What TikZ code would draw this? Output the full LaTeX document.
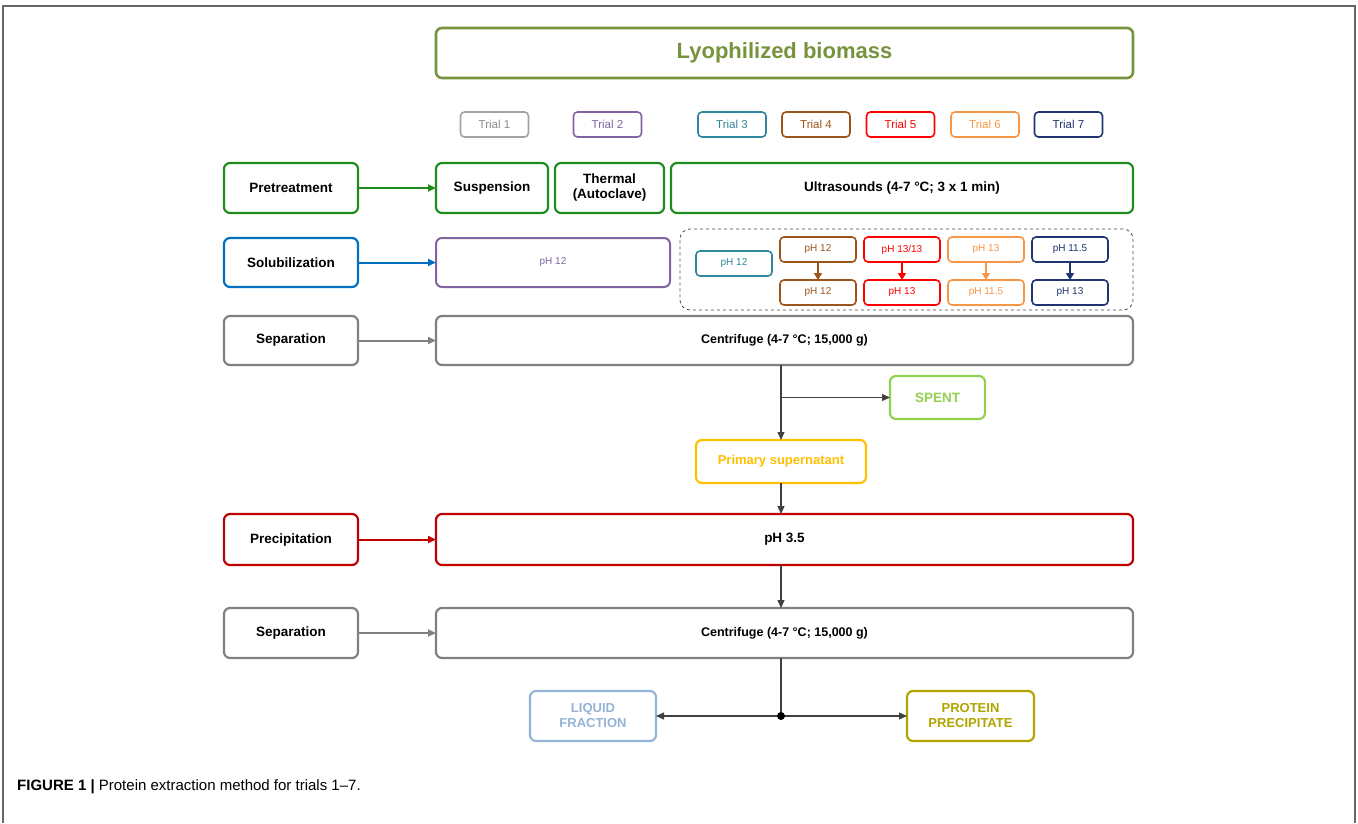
\documentclass[tikz,border=0pt]{standalone}
\usepackage{fontspec}
\setmainfont{Liberation Sans}
\usetikzlibrary{arrows.meta}
\definecolor{olive}{HTML}{77933C}
\definecolor{tgray}{HTML}{8C8C8C}
\definecolor{tpurple}{HTML}{8064A2}
\definecolor{tteal}{HTML}{31859C}
\definecolor{tbrown}{HTML}{9C5418}
\definecolor{tred}{HTML}{FF0000}
\definecolor{torange}{HTML}{F79646}
\definecolor{tnavy}{HTML}{1F3470}
\definecolor{pgreen}{HTML}{1E8C1E}
\definecolor{sblue}{HTML}{0070C0}
\definecolor{sgray}{HTML}{808080}
\definecolor{spentg}{HTML}{92D050}
\definecolor{supy}{HTML}{FFC000}
\definecolor{precr}{HTML}{C00000}
\definecolor{liqb}{HTML}{95B3D7}
\definecolor{protc}{HTML}{B0A500}
\begin{document}
\begin{tikzpicture}[x=1pt,y=-1pt,
  box/.style={draw, rounded corners=6pt, line width=2.2pt, inner sep=0pt, outer sep=0pt, align=center, fill=white},
  sz/.style 2 args={minimum width=#1pt, minimum height=#2pt},
  lab/.style={font=\fontsize{13.5}{15}\selectfont\bfseries},
  trial/.style={box, line width=1.6pt, rounded corners=4pt, font=\fontsize{11.5}{13}\selectfont, sz={68}{25}},
  ph/.style={box, line width=1.6pt, rounded corners=4pt, font=\fontsize{10}{11}\selectfont, sz={76}{25}},
  arr/.style={line width=2pt, -{Triangle[length=8pt,width=7pt]}},
  carr/.style={line width=1.2pt, -{Triangle[length=8pt,width=7pt]}},
]
\useasboundingbox (0,0) rectangle (1358,823);
% frame
\draw[line width=1.6pt, color=black!60] (3,823) -- (3,6) -- (1355,6) -- (1355,823);

% title
\node[box, draw=olive, line width=2.6pt, sz={697}{50}, text=olive, font=\fontsize{22}{26}\selectfont\bfseries] (bio) at (784.5,53) {Lyophilized biomass};

% trials
\node[trial, draw=tgray!80, text=tgray] (t1) at (494.5,124.5) {Trial 1};
\node[trial, draw=tpurple, text=tpurple] (t2) at (607.5,124.5) {Trial 2};
\node[trial, draw=tteal, text=tteal] (t3) at (732,124.5) {Trial 3};
\node[trial, draw=tbrown, text=tbrown] (t4) at (816,124.5) {Trial 4};
\node[trial, draw=tred, text=tred] (t5) at (900.5,124.5) {Trial 5};
\node[trial, draw=torange, text=torange] (t6) at (985,124.5) {Trial 6};
\node[trial, draw=tnavy, text=tnavy] (t7) at (1068.5,124.5) {Trial 7};

% left labels
\node[box, lab, draw=pgreen, sz={134}{50}] (pre) at (291,188) {Pretreatment};
\node[box, lab, draw=sblue, sz={134}{49}] (sol) at (291,262.5) {Solubilization};
\node[box, lab, draw=sgray, sz={134}{49}] (sep1) at (291,340.5) {Separation};
\node[box, lab, draw=precr, sz={134}{51}] (prec) at (291,539.5) {Precipitation};
\node[box, lab, draw=sgray, sz={134}{50}] (sep2) at (291,633) {Separation};

% pretreatment row
\node[box, lab, draw=pgreen, sz={112}{50}] (susp) at (492,188) {Suspension};
\node[box, lab, draw=pgreen, sz={109}{50}] (therm) at (609.5,188) {Thermal\\(Autoclave)};
\node[box, lab, draw=pgreen, sz={462}{50}] (ultra) at (902,188) {Ultrasounds (4-7 °C; 3 x 1 min)};

% solubilization row
\node[box, draw=tpurple, text=tpurple, line width=2pt, sz={234}{49}, font=\fontsize{10}{11}\selectfont] (sp2) at (553,262.5) {pH 12};
\node[draw=black!70, dashed, line width=0.8pt, rounded corners=10pt, minimum width=453pt, minimum height=81pt, inner sep=0pt, outer sep=0pt] (dash) at (906.5,269.5) {};
\node[ph, draw=tteal, text=tteal] (p3) at (734,263.5) {pH 12};
\node[ph, draw=tbrown, text=tbrown] (p4a) at (818,249.5) {pH 12};
\node[ph, draw=tbrown, text=tbrown] (p4b) at (818,292.5) {pH 12};
\node[ph, draw=tred, text=tred] (p5a) at (902,249.5) {pH 13/13};
\node[ph, draw=tred, text=tred] (p5b) at (902,292.5) {pH 13};
\node[ph, draw=torange, text=torange] (p6a) at (986,249.5) {pH 13};
\node[ph, draw=torange, text=torange] (p6b) at (986,292.5) {pH 11.5};
\node[ph, draw=tnavy, text=tnavy] (p7a) at (1070,249.5) {pH 11.5};
\node[ph, draw=tnavy, text=tnavy] (p7b) at (1070,292.5) {pH 13};
\foreach \a/\c in {p4/tbrown,p5/tred,p6/torange,p7/tnavy}
  \draw[color=\c, line width=1.2pt, -{Triangle[length=7pt,width=8pt]}] (\a a.south) -- (\a b.north);

% separation 1
\node[box, lab, draw=sgray, sz={697}{49}, font=\fontsize{12.5}{14}\selectfont\bfseries] (cen1) at (784.5,340.5) {Centrifuge (4-7 °C; 15,000 g)};
\node[box, draw=spentg, text=spentg, sz={95}{43}, font=\fontsize{13.5}{15}\selectfont\bfseries] (spent) at (937.5,397.5) {SPENT};
\node[box, draw=supy, text=supy, sz={170}{43}, font=\fontsize{13}{15}\selectfont\bfseries] (sup) at (781,461.5) {Primary supernatant};

% precipitation
\node[box, lab, draw=precr, sz={697}{51}] (ph35) at (784.5,539.5) {pH 3.5};
\node[box, lab, draw=sgray, sz={697}{50}, font=\fontsize{12.5}{14}\selectfont\bfseries] (cen2) at (784.5,633) {Centrifuge (4-7 °C; 15,000 g)};

% outputs
\node[box, draw=liqb, text=liqb, sz={126}{50}, font=\fontsize{13}{15}\selectfont\bfseries] (liq) at (593,716) {LIQUID\\FRACTION};
\node[box, draw=protc, text=protc, sz={127}{50}, font=\fontsize{13}{15}\selectfont\bfseries] (prot) at (970.5,716) {PROTEIN\\PRECIPITATE};

% row connectors
\draw[arr, color=pgreen] (pre.east) -- (susp.west);
\draw[arr, color=sblue] (sol.east) -- (sp2.west);
\draw[arr, color=sgray] (sep1.east) -- (cen1.west);
\draw[arr, color=precr] (prec.east) -- (ph35.west);
\draw[arr, color=sgray] (sep2.east) -- (cen2.west);

% flow connectors
\draw[carr, color=black!75] (sup.north |- cen1.south) -- (sup.north);
\draw[carr, color=black!75] (sup.north |- spent.west) -- (spent.west);
\draw[carr, color=black!75] (sup.south) -- (sup.south |- ph35.north);
\draw[carr, color=black!75] (sup.south |- ph35.south) -- (sup.south |- cen2.north);
\coordinate (jn) at (sup.south |- liq.east);
\draw[line width=1.2pt, color=black!75] (sup.south |- cen2.south) -- (jn);
\draw[carr, color=black!75] (jn) -- (liq.east);
\draw[carr, color=black!75] (jn) -- (prot.west);
\fill[black] (jn) circle (4pt);

% caption
\node[anchor=base west, inner sep=0pt, font=\fontsize{15}{18}\selectfont] (cap) at (17,790) {\textbf{FIGURE 1 |} Protein extraction method for trials 1--7.};
\end{tikzpicture}
\end{document}
